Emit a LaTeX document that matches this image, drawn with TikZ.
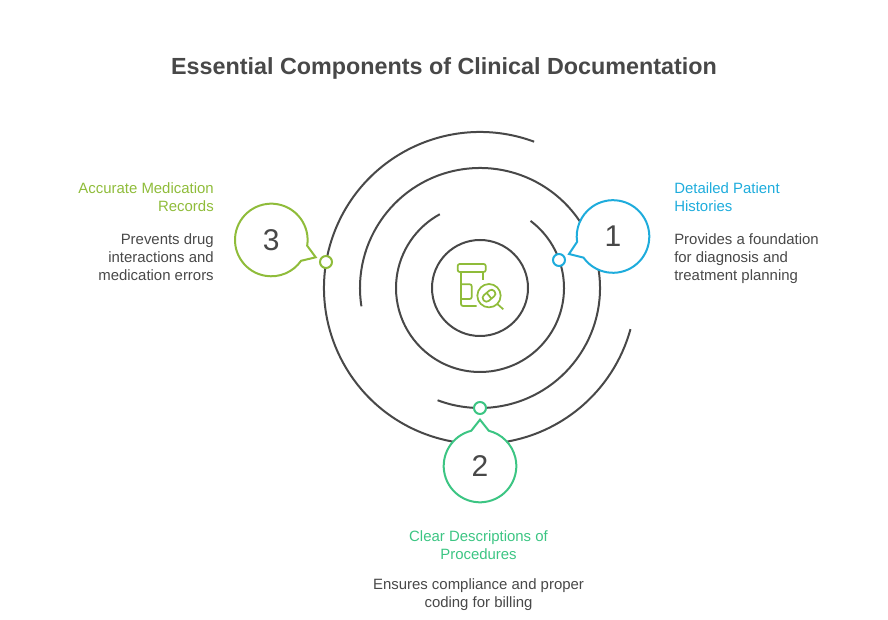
\documentclass[tikz,border=0pt]{standalone}
\usepackage{xcolor}
\usepackage{fontspec}
\setmainfont{Liberation Sans}
\usetikzlibrary{positioning}
\definecolor{ringGrey}{RGB}{72,72,72}
\definecolor{textGrey}{RGB}{72,72,72}
\definecolor{recordBlue}{RGB}{30,172,220}
\definecolor{recordGreen}{RGB}{60,197,131}
\definecolor{recordLime}{RGB}{143,188,58}

\begin{document}
\begin{tikzpicture}[
    x=0.75pt, y=0.75pt,
    ring/.style={draw=ringGrey, line width=1.5pt},
    bubble/.style={fill=white, line width=1.5pt, line join=miter},
    digit/.style={inner sep=0pt, text=textGrey, font=\fontsize{22.5}{27}\selectfont},
    dot/.style={circle, draw, fill=white, line width=1.5pt, minimum size=9pt, inner sep=0pt},
    head/.style={font=\fontsize{11.2}{13.5}\selectfont, inner sep=0pt},
    body/.style={font=\fontsize{11.2}{13.5}\selectfont, text=textGrey, inner sep=0pt},
    icon/.style={draw=recordLime, line width=1.3pt, rounded corners=1.5pt}
]
    \useasboundingbox (0,0) rectangle (888,620);
    \node[font=\fontsize{17.5}{22}\selectfont\bfseries, text=textGrey, inner sep=0pt] (title) at (444,552) {Essential Components of Clinical Documentation};

    % rings
    \coordinate (hub) at (480,332);
    \node[circle, ring, minimum size=72pt, inner sep=0pt] (core) at (hub) {};
    \draw[ring] (hub) ++(53:84) arc[start angle=53, end angle=-241.4, radius=84];
    \draw[ring] (hub) ++(188.8:120) arc[start angle=188.8, end angle=-110.7, radius=120];
    \draw[ring] (hub) ++(69.7:156) arc[start angle=69.7, end angle=344.7, radius=156];

    \node[dot, draw=recordBlue] (dotOne) at (559,360) {};
    \node[dot, draw=recordGreen] (dotTwo) at (480,212) {};
    \node[dot, draw=recordLime] (dotThree) at (326,358) {};

    % bubbles
    \coordinate (hubOne) at (613,383.5);
    \coordinate (tipOne) at (569,366);
    \draw[bubble, draw=recordBlue] (hubOne) ++(215.6:36.3) arc[start angle=215.6, end angle=548.5, radius=36.3] -- (tipOne) -- cycle;
    \node[digit] (one) at (hubOne) {1};

    \coordinate (hubTwo) at (480,154);
    \coordinate (tipTwo) at (480,200.3);
    \draw[bubble, draw=recordGreen] (hubTwo) ++(104:36.3) arc[start angle=104, end angle=436, radius=36.3] -- (tipTwo) -- cycle;
    \node[digit] (two) at (hubTwo) {2};

    \coordinate (hubThree) at (271.3,380);
    \coordinate (tipThree) at (315.7,362.7);
    \draw[bubble, draw=recordLime] (hubThree) ++(-9:36.3) arc[start angle=-9, end angle=325, radius=36.3] -- (tipThree) -- cycle;
    \node[digit] (three) at (hubThree) {3};

    % icon
    \draw[icon] (457.7,348) rectangle (485.7,356);
    \draw[icon] (461,348) -- (461,314) -- (476.7,314);
    \draw[icon] (483.3,348) -- (483.3,340);
    \draw[icon] (461,335.7) -- (471.7,335.7) -- (471.7,321) -- (461,321);
    \node[circle, draw=recordLime, line width=1.3pt, minimum size=17.5pt, inner sep=0pt] (lens) at (489,324.3) {};
    \draw[icon] (lens) ++(-45:11.7) -- (503.3,310.7);
    \draw[icon, rounded corners=2.5pt, rotate around={40:(lens)}] (482,320.5) rectangle (496,328);
    \draw[icon] (lens) ++(-50:3.7) -- ++(130:7.5);

    % texts
    \node[head, text=recordBlue, align=left, anchor=north west] (oneHead) at (674,438) {Detailed Patient\\Histories};
    \node[body, align=left, below=16.5pt of oneHead.south west, anchor=north west] (oneBody) {Provides a foundation\\for diagnosis and\\treatment planning};

    \node[head, text=recordGreen, align=center, anchor=north] (twoHead) at (478.5,90) {Clear Descriptions of\\Procedures};
    \node[body, align=center, below=14.25pt of twoHead.south, anchor=north] (twoBody) {Ensures compliance and proper\\coding for billing};

    \node[head, text=recordLime, align=right, anchor=north east] (threeHead) at (214,438) {Accurate Medication\\Records};
    \node[body, align=right, below=16.5pt of threeHead.south east, anchor=north east] (threeBody) {Prevents drug\\interactions and\\medication errors};
\end{tikzpicture}
\end{document}
